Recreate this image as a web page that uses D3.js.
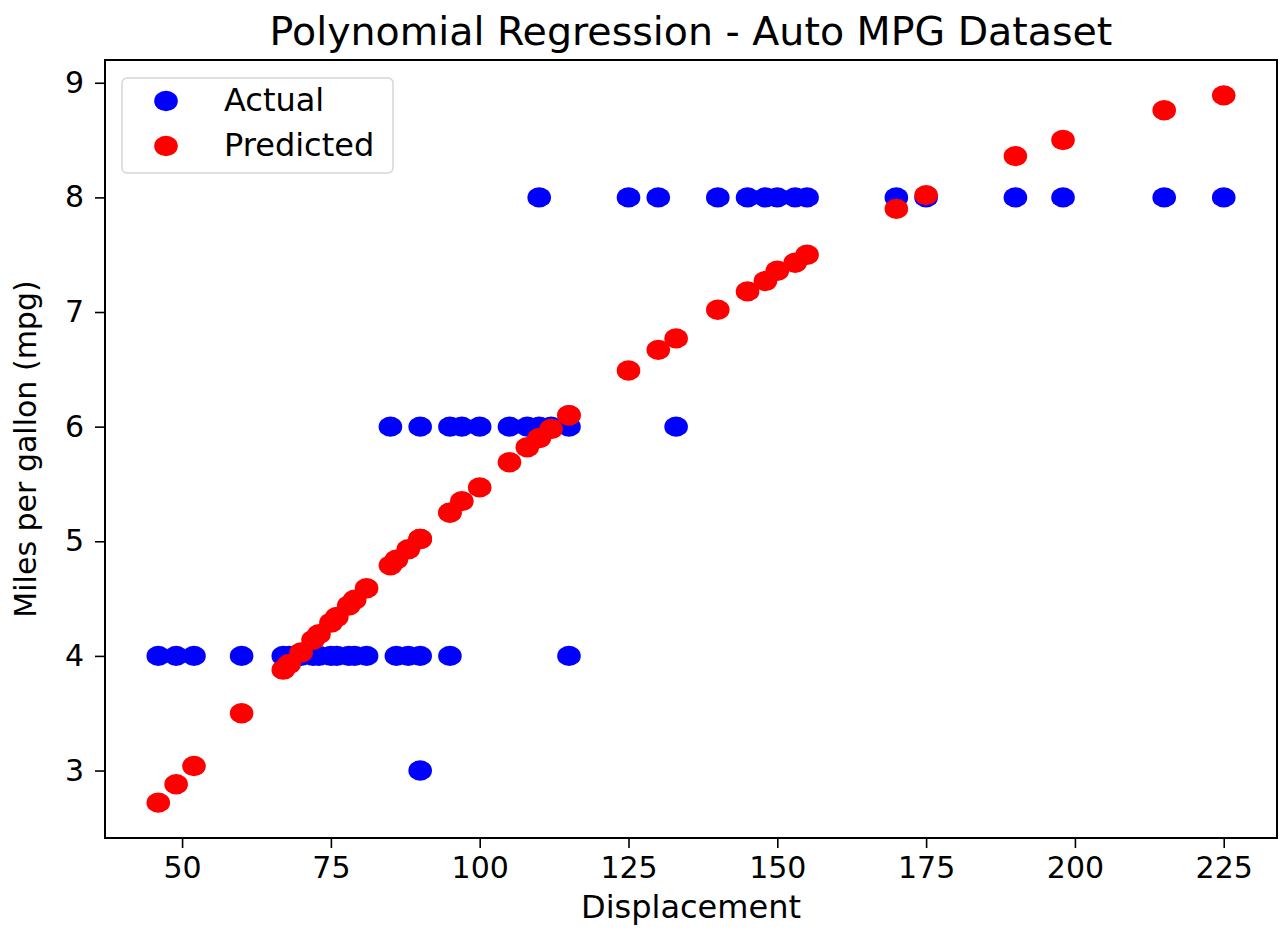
<!DOCTYPE html>
<html>
<head>
<meta charset="utf-8">
<script src="https://cdn.jsdelivr.net/npm/d3@7"></script>
<style>
  body { margin: 0; background: #fff; }
  text { font-family: "DejaVu Sans", sans-serif; }
</style>
</head>
<body>
<div id="okvir"></div>
<script>
// test points: displacement, actual cylinders value, model prediction
const displacement = [
  46, 49, 52, 60, 67, 68, 70, 72, 73, 75, 76, 78, 79, 81, 86, 88, 90, 95, 115,
  85, 90, 95, 97, 100, 105, 108, 110, 112, 115, 133,
  110, 125, 130, 140, 145, 148, 150, 153, 155, 170, 175, 190, 198, 215, 225,
  90
];
const actual = [
  4, 4, 4, 4, 4, 4, 4, 4, 4, 4, 4, 4, 4, 4, 4, 4, 4, 4, 4,
  6, 6, 6, 6, 6, 6, 6, 6, 6, 6, 6,
  8, 8, 8, 8, 8, 8, 8, 8, 8, 8, 8, 8, 8, 8, 8,
  3
];
const predicted = [
  2.72, 2.88, 3.04, 3.50, 3.88, 3.93, 4.03, 4.14, 4.19, 4.29, 4.34, 4.44, 4.49, 4.59, 4.84, 4.93, 5.02, 5.25, 6.10,
  4.79, 5.02, 5.25, 5.35, 5.47, 5.69, 5.82, 5.90, 5.98, 6.10, 6.77,
  5.90, 6.49, 6.67, 7.02, 7.18, 7.27, 7.36, 7.43, 7.50, 7.90, 8.02, 8.36, 8.50, 8.76, 8.89,
  5.02
];

const xTicks = [50, 75, 100, 125, 150, 175, 200, 225];
const yTicks = [3, 4, 5, 6, 7, 8, 9];
const serije = ["Actual", "Predicted"];
const boje = ["#0000ff", "#ff0000"];

const podatci = displacement.map((d, i) => ({x: d, actual: actual[i], predicted: predicted[i]}));

const dim = {
  sirina: 1280,
  visina: 929,
  lijevo: 105,
  desno: 1277,
  gore: 60,
  dolje: 838
};

const svg = d3.select("#okvir").append("svg")
  .attr("width", dim.sirina)
  .attr("height", dim.visina);

// matplotlib style autoscale: 5% margin on each side
const xExt = d3.extent(podatci, d => d.x);
const yExt = d3.extent(podatci.flatMap(d => [d.actual, d.predicted]));
const xPad = (xExt[1] - xExt[0]) * 0.05;
const yPad = (yExt[1] - yExt[0]) * 0.05;

const xSkala = d3.scaleLinear()
  .domain([xExt[0] - xPad, xExt[1] + xPad])
  .range([dim.lijevo, dim.desno]);
const ySkala = d3.scaleLinear()
  .domain([yExt[0] - yPad, yExt[1] + yPad])
  .range([dim.dolje, dim.gore]);

const rx = 11.8, ry = 10.2;

// actual first, predicted drawn on top
svg.append("g").selectAll("ellipse")
  .data(podatci)
  .join("ellipse")
    .attr("cx", d => xSkala(d.x))
    .attr("cy", d => ySkala(d.actual))
    .attr("rx", rx)
    .attr("ry", ry)
    .attr("fill", boje[0]);

svg.append("g").selectAll("ellipse")
  .data(podatci)
  .join("ellipse")
    .attr("cx", d => xSkala(d.x))
    .attr("cy", d => ySkala(d.predicted))
    .attr("rx", rx)
    .attr("ry", ry)
    .attr("fill", boje[1]);

// axes
const xOs = svg.append("g")
  .attr("transform", `translate(0,${dim.dolje})`)
  .call(d3.axisBottom(xSkala).tickValues(xTicks).tickFormat(d3.format("d"))
    .tickSize(10).tickPadding(9).tickSizeOuter(0));
const yOs = svg.append("g")
  .attr("transform", `translate(${dim.lijevo},0)`)
  .call(d3.axisLeft(ySkala).tickValues(yTicks).tickFormat(d3.format("d"))
    .tickSize(10).tickPadding(11).tickSizeOuter(0));

[xOs, yOs].forEach(os => {
  os.select(".domain").remove();
  os.selectAll(".tick line").attr("stroke", "#000").attr("stroke-width", 1.6);
  os.selectAll(".tick text")
    .attr("fill", "#000")
    .style("font-size", "30px")
    .style("font-family", "DejaVu Sans");
});

// frame
svg.append("rect")
  .attr("x", dim.lijevo)
  .attr("y", dim.gore)
  .attr("width", dim.desno - dim.lijevo)
  .attr("height", dim.dolje - dim.gore)
  .attr("fill", "none")
  .attr("stroke", "#000")
  .attr("stroke-width", 2);

// labels
svg.append("text")
  .attr("x", (dim.lijevo + dim.desno) / 2)
  .attr("y", 45)
  .attr("text-anchor", "middle")
  .style("font-size", "39.5px")
  .text("Polynomial Regression - Auto MPG Dataset");

svg.append("text")
  .attr("x", (dim.lijevo + dim.desno) / 2)
  .attr("y", 918)
  .attr("text-anchor", "middle")
  .style("font-size", "32px")
  .text("Displacement");

svg.append("text")
  .attr("transform", `translate(36,${(dim.gore + dim.dolje) / 2}) rotate(-90)`)
  .attr("text-anchor", "middle")
  .style("font-size", "30px")
  .text("Miles per gallon (mpg)");

// legend
const legenda = svg.append("g");
legenda.append("rect")
  .attr("x", 122)
  .attr("y", 78)
  .attr("width", 271)
  .attr("height", 95)
  .attr("rx", 5)
  .attr("fill", "#fff")
  .attr("fill-opacity", 0.8)
  .attr("stroke", "#d6d6d6")
  .attr("stroke-width", 1.5);

serije.forEach((s, i) => {
  legenda.append("ellipse")
    .attr("cx", 166)
    .attr("cy", 101 + i * 45)
    .attr("rx", rx)
    .attr("ry", ry)
    .attr("fill", boje[i]);
  legenda.append("text")
    .attr("x", 224)
    .attr("y", 111 + i * 45)
    .style("font-size", "32px")
    .text(s);
});
</script>
</body>
</html>
